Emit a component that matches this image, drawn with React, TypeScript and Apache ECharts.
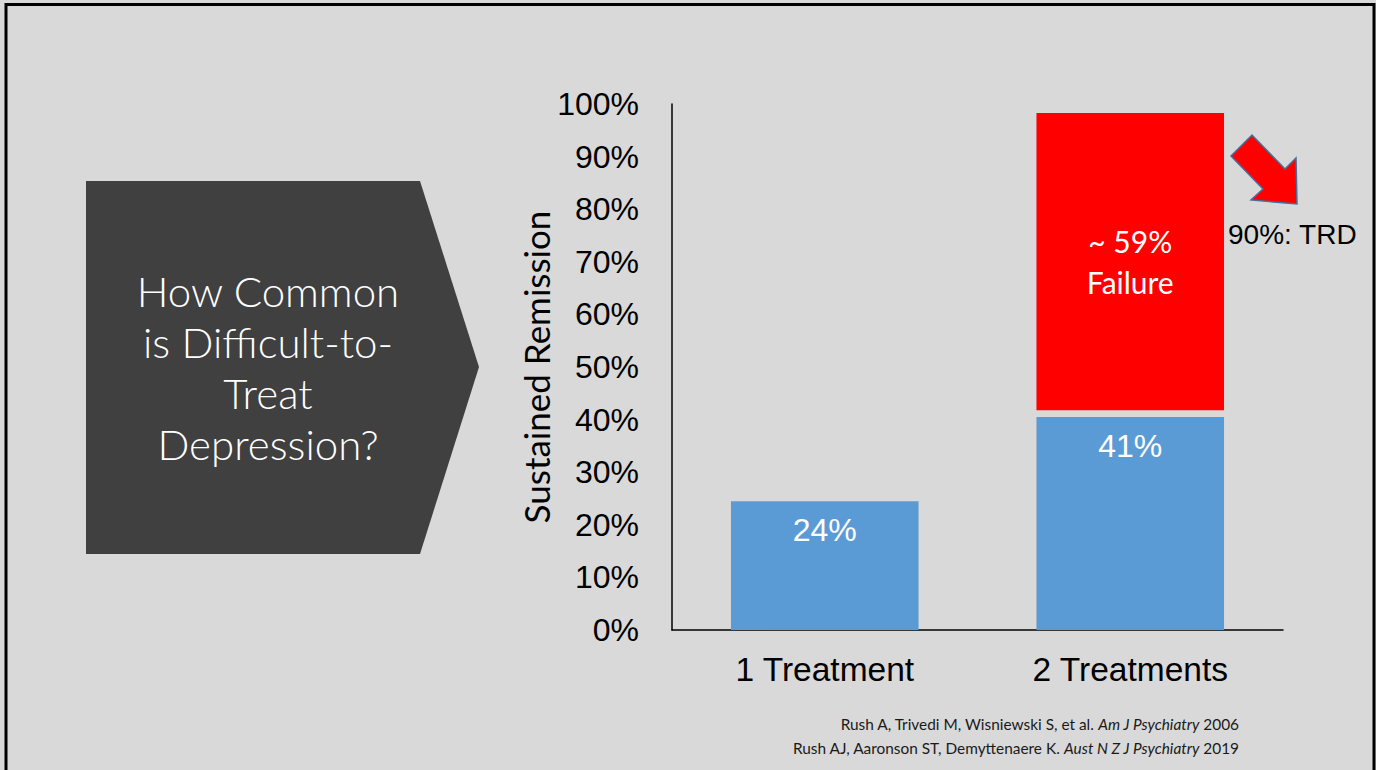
import React, { useEffect, useRef } from "react";
import * as echarts from "echarts";

const categories = ["1 Treatment", "2 Treatments"];
const remission = [24.5, 40.5];
const remissionLabels = ["24%", "41%"];
const failureGap = [null, 1.3];
const failure = [null, 56.5];
const failureLabel = "~ 59%\nFailure";
const yMin = 0;
const yMax = 100;
const yStep = 10;
const yAxisTitle = "Sustained Remission";
const headline = "How Common\nis Difficult-to-\nTreat\nDepression?";
const calloutText = "90%: TRD";
const citation1 = ["Rush A, Trivedi M, Wisniewski S, et al. ", "Am J Psychiatry", " 2006"];
const citation2 = ["Rush AJ, Aaronson ST, Demyttenaere K. ", "Aust N Z J Psychiatry", " 2019"];

const ARIAL = "'Liberation Sans', Arial, sans-serif";
const CAL = "Lato, 'Open Sans', sans-serif";

export default function App() {
  const ref = useRef<HTMLDivElement>(null);
  useEffect(() => {
    if (!ref.current) return;
    const chart = echarts.init(ref.current, undefined, { renderer: "svg" });
    const cite = (parts: string[]) =>
      `{n|${parts[0]}}{i|${parts[1]}}{n|${parts[2]}}`;
    const citeRich = {
      n: { fontFamily: CAL, fontSize: 15.4, fill: "#1a1a1a", fontStyle: "normal" },
      i: { fontFamily: CAL, fontSize: 15.4, fill: "#1a1a1a", fontStyle: "italic" },
    };
    chart.setOption({
      animation: false,
      backgroundColor: "#d9d9d9",
      grid: { left: 672, right: 93, top: 104, bottom: 140, containLabel: false },
      xAxis: {
        type: "category",
        data: categories,
        axisLine: { lineStyle: { color: "#000", width: 1.5 } },
        axisTick: { show: false },
        axisLabel: {
          color: "#000",
          fontFamily: ARIAL,
          fontSize: 33.5,
          lineHeight: 33,
          margin: 23,
        },
      },
      yAxis: {
        type: "value",
        min: yMin,
        max: yMax,
        interval: yStep,
        name: yAxisTitle,
        nameLocation: "middle",
        nameGap: 113,
        nameTextStyle: { color: "#000", fontFamily: CAL, fontSize: 35 },
        axisLine: { show: true, lineStyle: { color: "#000", width: 1.5 } },
        axisTick: { show: false },
        splitLine: { show: false },
        axisLabel: {
          color: "#000",
          fontFamily: ARIAL,
          fontSize: 32,
          margin: 33,
          formatter: "{value}%",
        },
      },
      series: [
        {
          type: "bar",
          stack: "s",
          data: remission,
          barWidth: "61.4%",
          itemStyle: { color: "#5b9bd5" },
          label: {
            show: true,
            position: "insideTop",
            distance: 13,
            color: "#fff",
            fontFamily: ARIAL,
            fontSize: 32,
            lineHeight: 32,
            formatter: (p: any) => remissionLabels[p.dataIndex],
          },
        },
        {
          type: "bar",
          stack: "s",
          data: failureGap,
          itemStyle: { color: "rgba(0,0,0,0)" },
          silent: true,
        },
        {
          type: "bar",
          stack: "s",
          data: failure,
          itemStyle: { color: "#ff0000" },
          label: {
            show: true,
            position: "inside",
            color: "#fff",
            fontFamily: CAL,
            fontSize: 30,
            lineHeight: 41,
            formatter: () => failureLabel,
          },
        },
      ],
      graphic: [
        {
          type: "rect",
          z: -10,
          shape: { x: 6, y: 4.5, width: 1368, height: 780 },
          style: { fill: "none", stroke: "#000", lineWidth: 3 },
        },
        {
          type: "polygon",
          shape: {
            points: [
              [86, 181],
              [420, 181],
              [479, 367],
              [420, 554],
              [86, 554],
            ],
          },
          style: { fill: "#404040" },
        },
        {
          type: "text",
          x: 268,
          y: 367,
          style: {
            text: headline,
            fill: "#fff",
            fontFamily: CAL,
            fontWeight: 300,
            fontSize: 42,
            lineHeight: 51,
            align: "center",
            verticalAlign: "middle",
          },
        },
        {
          type: "polygon",
          shape: {
            points: [
              [1231, 156],
              [1252, 135],
              [1285, 169],
              [1296, 158],
              [1297, 204],
              [1251, 200],
              [1263, 189],
            ],
          },
          style: { fill: "#ff0000", stroke: "#41719c", lineWidth: 1.5 },
        },
        {
          type: "text",
          x: 1228,
          y: 234,
          style: {
            text: calloutText,
            fill: "#000",
            fontFamily: ARIAL,
            fontSize: 28,
            align: "left",
            verticalAlign: "middle",
          },
        },
        {
          type: "text",
          x: 1239,
          y: 724,
          style: {
            text: cite(citation1),
            rich: citeRich,
            align: "right",
            verticalAlign: "middle",
          },
        },
        {
          type: "text",
          x: 1239,
          y: 748,
          style: {
            text: cite(citation2),
            rich: citeRich,
            align: "right",
            verticalAlign: "middle",
          },
        },
      ],
    });
    return () => chart.dispose();
  }, []);
  return (
    <div
      ref={ref}
      style={{ position: "fixed", left: 0, top: 0, width: 1376, height: 770 }}
    />
  );
}
